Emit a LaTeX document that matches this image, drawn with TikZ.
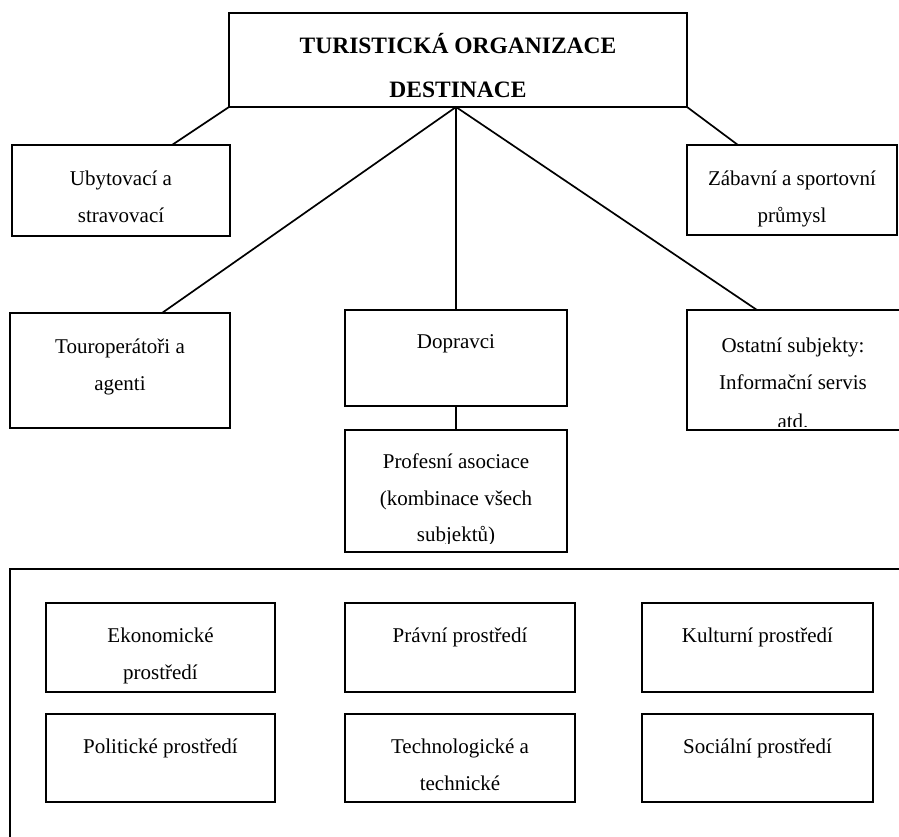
\documentclass[tikz,border=0pt]{standalone}
\usepackage{fontspec}
\setmainfont{Liberation Serif}
\newcommand\mkbox[5]{\node[box,minimum width={(#4)-(#2)},minimum height={(#5)-(#3)}] (#1) at ({((#2)+(#4))/2},{((#3)+(#5))/2}) {};}
\begin{document}
\begin{tikzpicture}[x=1pt,y=-1pt,
  box/.style={draw,line width=1.8pt,inner sep=0pt,outer sep=0pt},
  txt/.style={anchor=base,inner sep=0pt,font=\fontsize{21}{25}\selectfont},
  ttl/.style={anchor=base,inner sep=0pt,font=\fontsize{23.5}{28}\selectfont\bfseries},
  conn/.style={line width=1.7pt}]
\useasboundingbox (0,0) rectangle (899,836);
\clip (0,0) rectangle (899,836);

% boxes
\mkbox{top}{229}{13}{687}{107}
\mkbox{ub}{12}{145}{230}{236}
\mkbox{zab}{687}{145}{897}{235}
\mkbox{tour}{10}{313}{230}{428}
\mkbox{dop}{345}{310}{567}{406}
\mkbox{ost}{687}{310}{905}{430}
\mkbox{prof}{345}{430}{567}{552}
\mkbox{env}{10}{569}{930}{880}
\mkbox{eko}{46}{603}{275}{692}
\mkbox{pra}{345}{603}{575}{692}
\mkbox{kul}{642}{603}{873}{692}
\mkbox{pol}{46}{714}{275}{802}
\mkbox{tech}{345}{714}{575}{802}
\mkbox{soc}{642}{714}{873}{802}

% connectors
\coordinate (hub) at ([xshift=-2pt]top.south);
\draw[conn] (top.south west) -- ([xshift=51pt]ub.north);
\draw[conn] (top.south east) -- ([xshift=-54pt]zab.north);
\draw[conn] (hub) -- ([xshift=42pt]tour.north);
\draw[conn] (hub) -- (dop.north);
\draw[conn] (hub) -- ([xshift=-39pt]ost.north);
\draw[conn] (dop.south) -- (prof.north);

% texts
\node[ttl] (top1) at (458,53) {TURISTICKÁ ORGANIZACE};
\node[ttl] (top2) at (458,97) {DESTINACE};

\node[txt] (ub1) at (121,185) {Ubytovací a};
\node[txt] (ub2) at (121,222) {stravovací};

\node[txt] (zab1) at (792,185) {Zábavní a sportovní};
\node[txt] (zab2) at (792,222) {průmysl};

\node[txt] (tour1) at (120,353) {Touroperátoři a};
\node[txt] (tour2) at (120,390) {agenti};

\node[txt] (dop1) at (456,348) {Dopravci};

\begin{scope}
\clip (687,310) rectangle (899,426);
\node[txt] (ost1) at (793,352) {Ostatní subjekty:};
\node[txt] (ost2) at (793,389) {Informační servis};
\node[txt] (ost3) at (793,428) {atd.};
\end{scope}

\begin{scope}
\clip (345,430) rectangle (567,543);
\node[txt] (prof1) at (456,468) {Profesní asociace};
\node[txt] (prof2) at (456,505) {(kombinace všech};
\node[txt] (prof3) at (456,541) {subjektů)};
\end{scope}

\begin{scope}
\clip (46,603) rectangle (275,683);
\node[txt] (eko1) at (160.5,642) {Ekonomické};
\node[txt] (eko2) at (160.5,679) {prostředí};
\end{scope}
\node[txt] (pra1) at (460,642) {Právní prostředí};
\node[txt] (kul1) at (757.5,642) {Kulturní prostředí};

\node[txt] (pol1) at (160.5,753) {Politické prostředí};
\begin{scope}
\clip (345,714) rectangle (575,794);
\node[txt] (tech1) at (460,753) {Technologické a};
\node[txt] (tech2) at (460,790) {technické};
\end{scope}
\node[txt] (soc1) at (757.5,753) {Sociální prostředí};
\end{tikzpicture}
\end{document}
